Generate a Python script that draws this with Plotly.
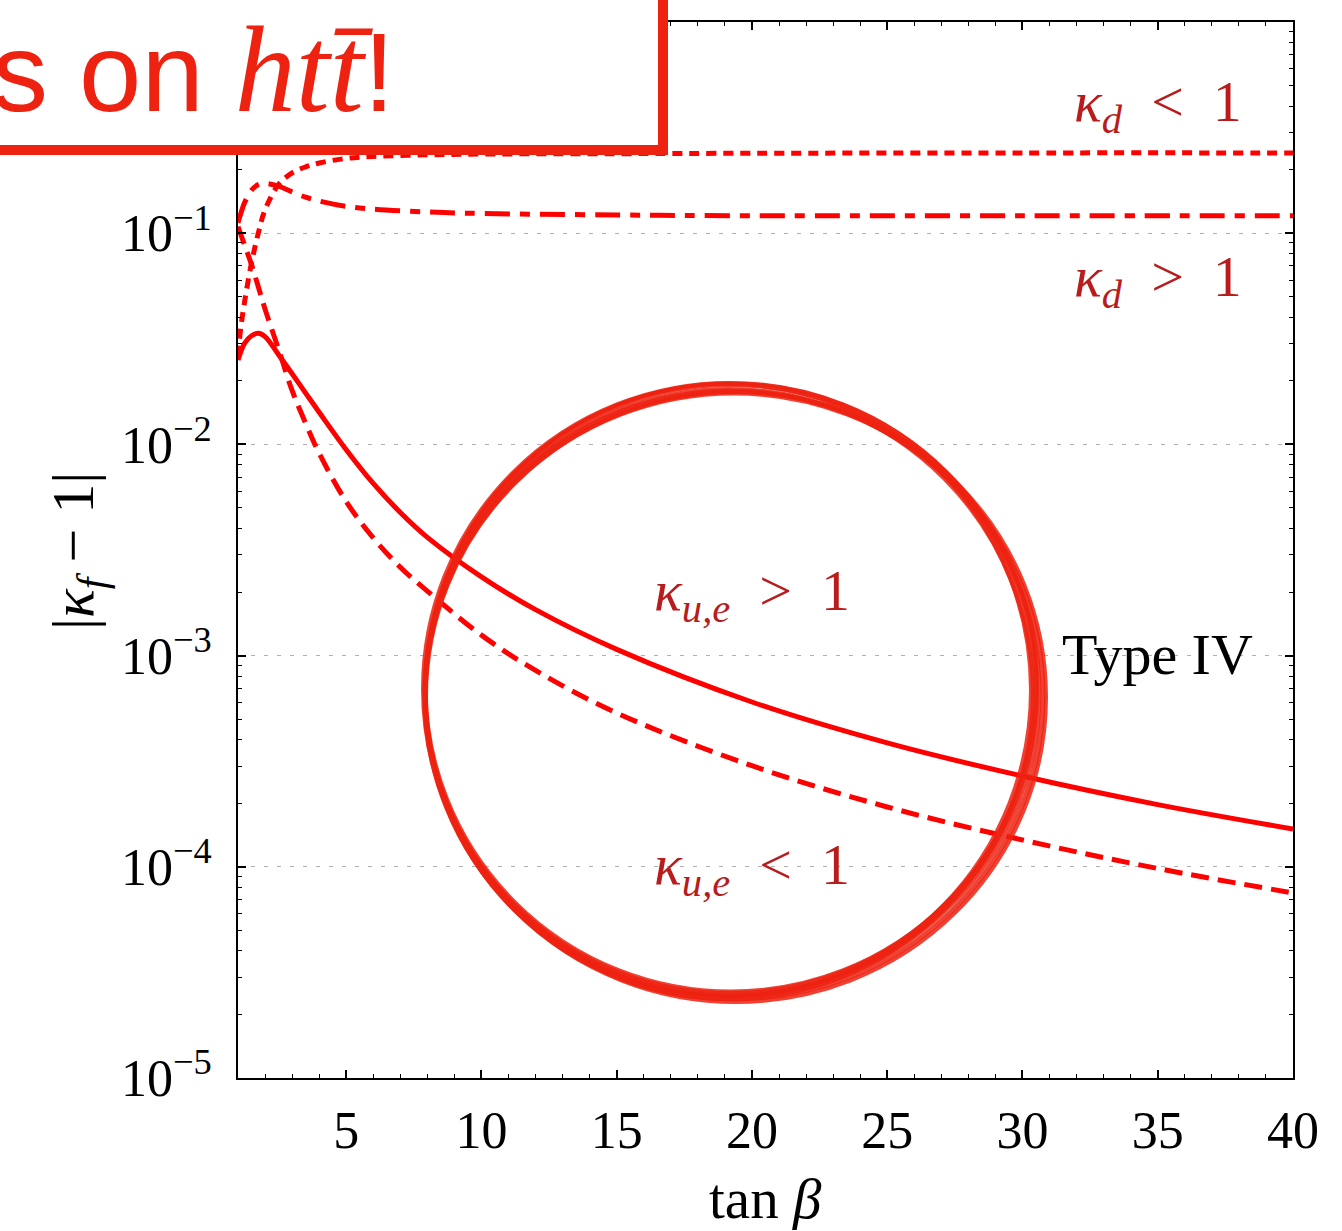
import plotly.graph_objects as go

# ---------------- data ----------------
tanb_ku_gt = [1, 1.25, 1.5, 1.75, 2, 2.5, 3, 3.5, 4, 5, 6, 7, 8, 10, 12, 15, 20, 25, 30, 35, 40]
k_ku_gt = [0.0251, 0.0302, 0.0327, 0.0336, 0.0324, 0.0266, 0.0216, 0.0175, 0.0142, 0.00944,
           0.00653, 0.00476, 0.00363, 0.00236, 0.00165, 0.00107, 0.000603, 0.000386,
           0.000269, 0.000197, 0.000151]

tanb_ku_lt = [1, 1.25, 1.5, 1.75, 2, 2.5, 3, 3.5, 4, 5, 6, 7, 8, 10, 12, 15, 20, 25, 30, 35, 40]
k_ku_lt = [0.1074, 0.0873, 0.0710, 0.0558, 0.0437, 0.0282, 0.0180, 0.0126, 0.00908, 0.00536,
           0.00361, 0.00262, 0.00202, 0.00125, 0.000851, 0.000535, 0.000301, 0.000192,
           0.000134, 0.0000982, 0.0000752]

tanb_kd_lt = [1, 1.1, 1.25, 1.5, 1.75, 2, 2.5, 3, 3.5, 4, 5, 6, 8, 10, 15, 20, 30, 40]
k_kd_lt = [0.0263, 0.0355, 0.0479, 0.0724, 0.100, 0.129, 0.170, 0.193, 0.206, 0.215,
           0.226, 0.231, 0.235, 0.237, 0.238, 0.239, 0.240, 0.240]

tanb_kd_gt = [1, 1.25, 1.5, 1.75, 2, 2.5, 3, 3.5, 4, 5, 6, 8, 10, 15, 20, 30, 40]
k_kd_gt = [0.112, 0.140, 0.160, 0.170, 0.172, 0.167, 0.157, 0.148, 0.142, 0.134,
           0.130, 0.126, 0.124, 0.122, 0.121, 0.121, 0.121]

x_tickvals = [5, 10, 15, 20, 25, 30, 35, 40]
x_ticktext = ["5", "10", "15", "20", "25", "30", "35", "40"]
y_tickvals = [1e-5, 1e-4, 1e-3, 1e-2, 1e-1]
y_ticktext = ["10<sup>−5</sup>", "10<sup>−4</sup>", "10<sup>−3</sup>", "10<sup>−2</sup>", "10<sup>−1</sup>"]
y_minor = [k * 10.0 ** e for e in range(-5, 0) for k in range(2, 10)]

# ---------------- layout geometry ----------------
W, H = 1342, 1231
L, R, T, B = 238, 49, 22, 153
PW, PH = W - L - R, H - T - B


def px(xp):
    return (xp - L) / PW


def py(yp):
    return 1 - (yp - T) / PH


CURVE = "#ff0000"
LABEL = "#b81c1c"
MARK = "#ee2211"
SERIF = "Liberation Serif"

fig = go.Figure()
fig.add_trace(go.Scatter(x=tanb_kd_lt, y=k_kd_lt, mode="lines", line_shape="spline",
                         line=dict(color=CURVE, width=5, dash="10px,7px")))
fig.add_trace(go.Scatter(x=tanb_kd_gt, y=k_kd_gt, mode="lines", line_shape="spline",
                         line=dict(color=CURVE, width=5, dash="25px,10px,10px,10px")))
fig.add_trace(go.Scatter(x=tanb_ku_gt, y=k_ku_gt, mode="lines", line_shape="spline",
                         line=dict(color=CURVE, width=5)))
fig.add_trace(go.Scatter(x=tanb_ku_lt, y=k_ku_lt, mode="lines", line_shape="spline",
                         line=dict(color=CURVE, width=5, dash="18px,9px")))

axis_common = dict(showline=True, linecolor="black", linewidth=2, mirror="ticks",
                   ticks="inside", ticklen=8, tickwidth=1.5, tickcolor="black",
                   tickfont=dict(family=SERIF, size=52, color="black"), zeroline=False)

fig.update_xaxes(range=[1, 40], tickmode="array", tickvals=x_tickvals, ticktext=x_ticktext,
                 showgrid=False, ticklabelstandoff=6,
                 minor=dict(tickmode="linear", tick0=0, dtick=1, ticks="inside", ticklen=4,
                            tickwidth=1.2, tickcolor="black", showgrid=False),
                 **axis_common)
fig.update_yaxes(type="log", range=[-5, 0], tickmode="array", tickvals=y_tickvals,
                 ticktext=y_ticktext, showgrid=True, gridcolor="#b0b0b0", gridwidth=1,
                 griddash="4px,9px", ticklabelstandoff=14,
                 minor=dict(tickmode="array", tickvals=y_minor, ticks="inside", ticklen=4,
                            tickwidth=1.2, tickcolor="black", showgrid=False),
                 **axis_common)

SP = "\u2005"
ann = []
ann.append(dict(x=35, y=-0.393, xref="x", yref="y", showarrow=False,
                text=f"<i>κ</i><sub><i>d</i></sub>{SP}{SP}<{SP}{SP}1",
                font=dict(family=SERIF, size=58, color=LABEL)))
ann.append(dict(x=35, y=-1.222, xref="x", yref="y", showarrow=False,
                text=f"<i>κ</i><sub><i>d</i></sub>{SP}{SP}>{SP}{SP}1",
                font=dict(family=SERIF, size=58, color=LABEL)))
ann.append(dict(x=20, y=-2.713, xref="x", yref="y", showarrow=False,
                text=f"<i>κ</i><sub><i>u,e</i></sub>{SP}{SP}>{SP}{SP}1",
                font=dict(family=SERIF, size=58, color=LABEL)))
ann.append(dict(x=20, y=-4.006, xref="x", yref="y", showarrow=False,
                text=f"<i>κ</i><sub><i>u,e</i></sub>{SP}{SP}<{SP}{SP}1",
                font=dict(family=SERIF, size=58, color=LABEL)))
ann.append(dict(x=35, y=-2.997, xref="x", yref="y", showarrow=False,
                text="Type IV", font=dict(family=SERIF, size=58, color="black")))
# axis titles
ann.append(dict(x=px(765), y=py(1198), xref="paper", yref="paper", showarrow=False,
                xanchor="center", yanchor="middle",
                text="tan <i>β</i>", font=dict(family=SERIF, size=57, color="black")))
ann.append(dict(x=px(77), y=py(551), xref="paper", yref="paper", showarrow=False,
                xanchor="center", yanchor="middle",
                textangle=-90, text="|<i>κ</i><sub><i>f</i></sub> − 1|",
                font=dict(family=SERIF, size=60, color="black")))
# overlay banner text
ann.append(dict(x=px(397), y=py(70), xref="paper", yref="paper", showarrow=False,
                xanchor="right", yanchor="middle",
                text="s on <span style=\"font-family:'Liberation Serif';font-style:italic;font-size:122px\">htt\u0304</span>!",
                font=dict(family="Liberation Sans", size=112, color=MARK)))

shapes = []
shapes.append(dict(type="rect", xref="paper", yref="paper", x0=px(-40), x1=px(663),
                   y0=py(150), y1=py(-40), line=dict(color=MARK, width=10),
                   fillcolor="white", layer="above"))
# hand-drawn style circle overlay
circ = [(730, 689, 306, 305, 6), (732, 693, 307, 302, 5), (728, 690, 303, 306, 4),
        (734, 696, 309, 303, 5), (731, 687, 305, 304, 3), (736, 697, 310, 305, 4),
        (729, 694, 304, 305, 4)]
for cx, cy, rx, ry, w in circ:
    shapes.append(dict(type="circle", xref="paper", yref="paper",
                       x0=px(cx - rx), x1=px(cx + rx), y0=py(cy + ry), y1=py(cy - ry),
                       line=dict(color=MARK, width=w), opacity=0.85, layer="above"))

fig.update_layout(width=W, height=H, margin=dict(l=L, r=R, t=T, b=B, autoexpand=False),
                  paper_bgcolor="white", plot_bgcolor="white", showlegend=False,
                  annotations=ann, shapes=shapes)

fig.write_html("out.html")
